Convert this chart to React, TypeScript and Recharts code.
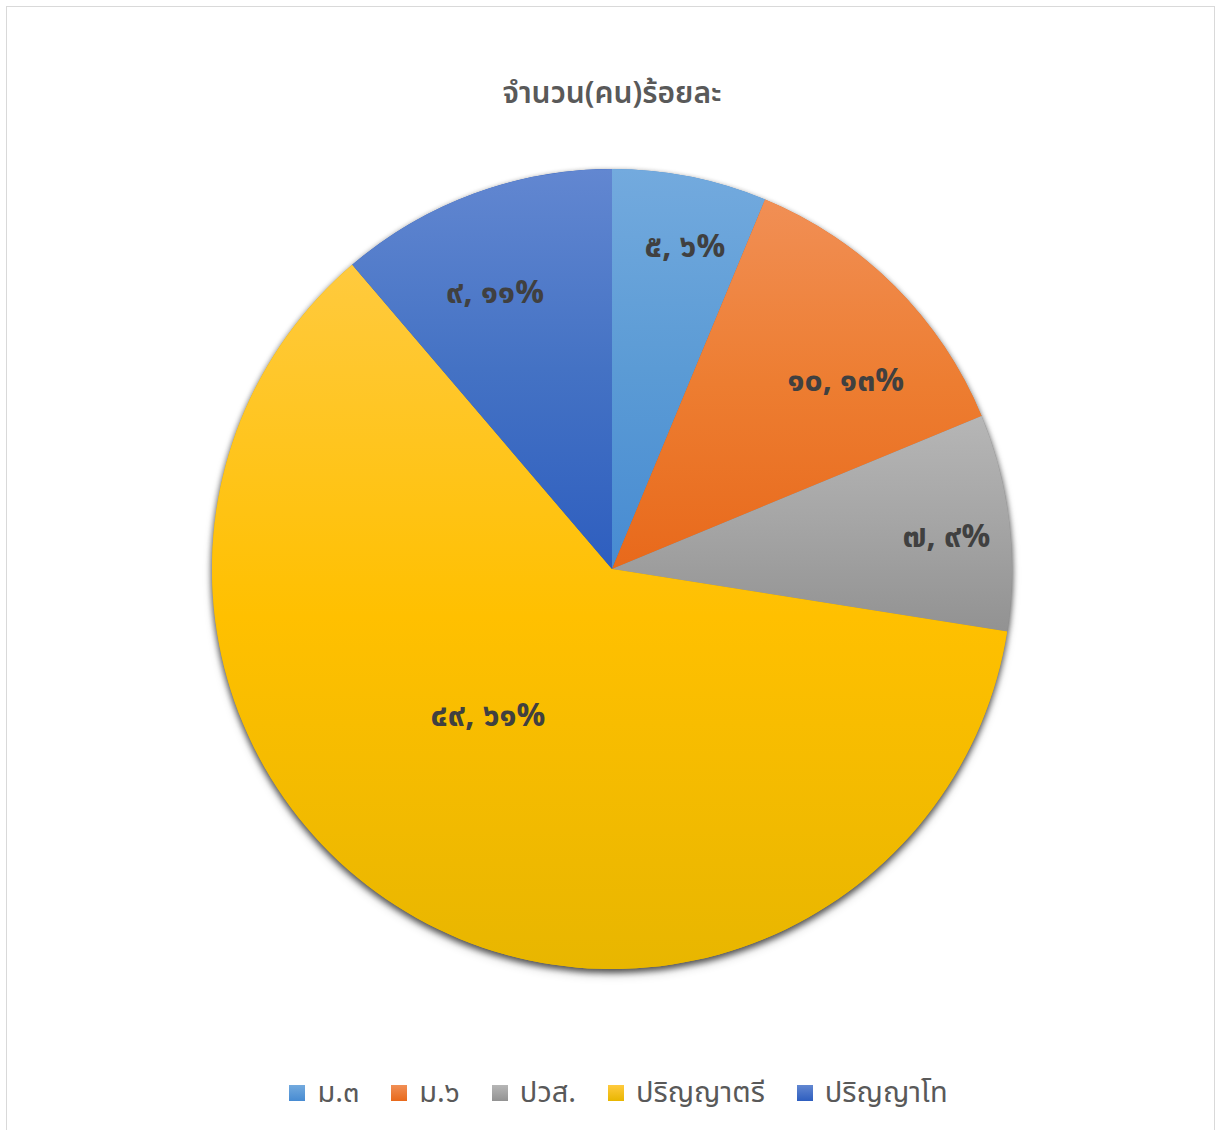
import React from 'react';
import { PieChart, Pie, Cell } from 'recharts';

const categories = ['ม.๓', 'ม.๖', 'ปวส.', 'ปริญญาตรี', 'ปริญญาโท'];
const counts = [5, 10, 7, 49, 9];
const chartTitle = 'จำนวน(คน)ร้อยละ';

const gradTop = ['#73aade', '#f18f55', '#b6b6b6', '#ffca3e', '#6287d1'];
const gradMid = ['#5b9bd5', '#ed7d31', '#a5a5a5', '#ffc000', '#4472c4'];
const gradBottom = ['#478bd2', '#e8691b', '#929292', '#e8b600', '#2e5ebf'];

// label placement styles (radius fraction, angle nudge in degrees)
const labelRadius = [0.825, 0.75, 0.84, 0.48, 0.75];
const labelNudge = [-1.5, -6.2, -1.3, -11, 2.7];

const thaiDigits = '๐๑๒๓๔๕๖๗๘๙';
const toThai = (n: number | string) =>
  String(n).replace(/[0-9]/g, (d) => thaiDigits[Number(d)]);

const total = counts.reduce((a, b) => a + b, 0);
const data = categories.map((name, i) => ({ name, value: counts[i] }));

const FONT = '"Noto Sans Thai", "Noto Sans", "Leelawadee UI", Tahoma, sans-serif';
const RAD = Math.PI / 180;

const renderLabel = (props: any) => {
  const { cx, cy, midAngle, outerRadius, index, value } = props;
  const ang = (midAngle + labelNudge[index]) * RAD;
  const r = outerRadius * labelRadius[index];
  const x = cx + r * Math.cos(ang);
  const y = cy - r * Math.sin(ang);
  const pct = Math.round((value / total) * 100);
  return (
    <text
      x={x}
      y={y}
      textAnchor="middle"
      dominantBaseline="central"
      fill="#404040"
      fontFamily={FONT}
      fontWeight={700}
      fontSize={32}
    >
      {`${toThai(value)}, ${toThai(pct)}%`}
    </text>
  );
};

export default function App() {
  return (
    <div
      style={{
        position: 'absolute',
        left: 0,
        top: 0,
        width: 1218,
        height: 1130,
        background: '#fff',
        overflow: 'hidden',
        fontFamily: FONT,
      }}
    >
      <style>{`.shadow-pie { filter: drop-shadow(0px 3px 3px rgba(0,0,0,0.45)); }`}</style>
      <div
        style={{
          position: 'absolute',
          left: 6,
          top: 6,
          width: 1209,
          height: 1140,
          border: '1.5px solid #d9d9d9',
          boxSizing: 'border-box',
        }}
      />
      <div
        style={{
          position: 'absolute',
          left: 0,
          width: 1224,
          top: 74,
          textAlign: 'center',
          fontSize: 30,
          fontWeight: 600,
          color: '#595959',
          lineHeight: '40px',
        }}
      >
        {chartTitle}
      </div>
      <div style={{ position: 'absolute', left: 0, top: 0 }}>
        <PieChart width={1218} height={1130} margin={{ top: 0, right: 0, bottom: 0, left: 0 }}>
          <defs>
            {categories.map((c, i) => (
              <linearGradient key={c} id={`g${i}`} x1="0" y1="0" x2="0" y2="1">
                <stop offset="0%" stopColor={gradTop[i]} />
                <stop offset="50%" stopColor={gradMid[i]} />
                <stop offset="100%" stopColor={gradBottom[i]} />
              </linearGradient>
            ))}
          </defs>
          <Pie
            data={data}
            dataKey="value"
            nameKey="name"
            cx={612}
            cy={569}
            outerRadius={400}
            startAngle={90}
            endAngle={-270}
            stroke="none"
            isAnimationActive={false}
            className="shadow-pie"
            legendType="none"
          >
            {data.map((d, i) => (
              <Cell key={d.name} fill={gradBottom[i]} stroke="none" />
            ))}
          </Pie>
          <Pie
            data={data}
            dataKey="value"
            nameKey="name"
            cx={612}
            cy={569}
            outerRadius={400}
            startAngle={90}
            endAngle={-270}
            stroke="none"
            isAnimationActive={false}
            label={renderLabel}
            labelLine={false}
          >
            {data.map((d, i) => (
              <Cell key={d.name} fill={`url(#g${i})`} stroke="none" />
            ))}
          </Pie>
        </PieChart>
      </div>
      <div
        style={{
          position: 'absolute',
          left: 0,
          width: 1237,
          top: 1073,
          display: 'flex',
          justifyContent: 'center',
          alignItems: 'center',
          gap: 32,
          fontSize: 29,
          color: '#595959',
        }}
      >
        {categories.map((c, i) => (
          <div key={c} style={{ display: 'flex', alignItems: 'center' }}>
            <div
              style={{
                width: 16,
                height: 16,
                marginRight: 12,
                background: `linear-gradient(${gradTop[i]}, ${gradBottom[i]})`,
              }}
            />
            <span style={{ lineHeight: '40px' }}>{c}</span>
          </div>
        ))}
      </div>
    </div>
  );
}
